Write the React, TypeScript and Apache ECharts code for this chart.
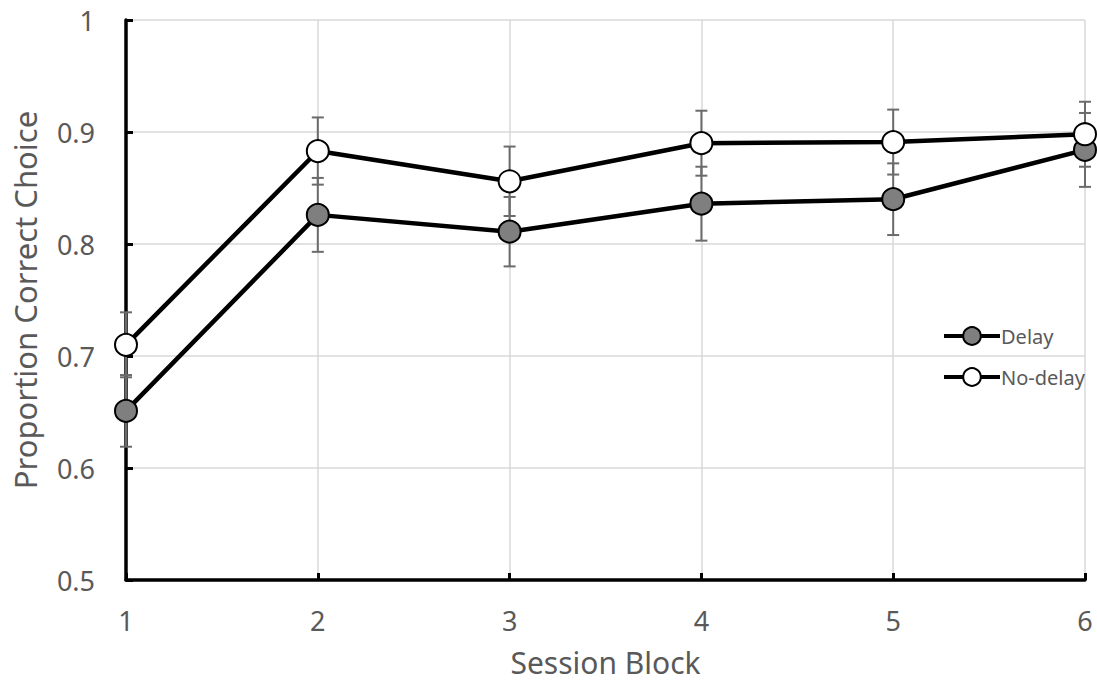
import React, { useEffect, useRef } from "react";
import * as echarts from "echarts";

const blocks = [1, 2, 3, 4, 5, 6];
const delayMeans = [0.651, 0.826, 0.811, 0.836, 0.84, 0.884];
const delayErr = [0.032, 0.033, 0.031, 0.033, 0.032, 0.033];
const noDelayMeans = [0.71, 0.883, 0.856, 0.89, 0.891, 0.898];
const noDelayErr = [0.029, 0.03, 0.031, 0.029, 0.029, 0.029];
const yTicks = [0.5, 0.6, 0.7, 0.8, 0.9, 1];

const FONT = "Noto Sans";
const TXT = "#595959";

function errSeries(name: string, means: number[], errs: number[]) {
  return {
    name: name + "-err",
    type: "custom",
    z: 1,
    silent: true,
    data: blocks.map((b, i) => [b, means[i] - errs[i], means[i] + errs[i]]),
    renderItem: (params: any, api: any) => {
      const x = api.value(0);
      const lo = api.coord([x, api.value(1)]);
      const hi = api.coord([x, api.value(2)]);
      const hw = 6;
      const style = { stroke: "#6b6b6b", lineWidth: 2, fill: "none" };
      return {
        type: "group",
        children: [
          { type: "line", shape: { x1: lo[0], y1: lo[1], x2: hi[0], y2: hi[1] }, style },
          { type: "line", shape: { x1: lo[0] - hw, y1: lo[1], x2: lo[0] + hw, y2: lo[1] }, style },
          { type: "line", shape: { x1: hi[0] - hw, y1: hi[1], x2: hi[0] + hw, y2: hi[1] }, style },
        ],
      };
    },
  };
}

export default function App() {
  const ref = useRef<HTMLDivElement>(null);
  useEffect(() => {
    if (!ref.current) return;
    const chart = echarts.init(ref.current, null, { renderer: "svg" });
    chart.setOption({
      animation: false,
      backgroundColor: "#ffffff",
      grid: { left: 126, right: 12, top: 20, bottom: 112 },
      legend: {
        orient: "vertical",
        left: 942,
        top: 326,
        padding: 0,
        itemGap: 21,
        itemWidth: 56,
        itemHeight: 22,
        lineStyle: { width: 4 },
        textStyle: { fontFamily: FONT, fontSize: 20, color: TXT, padding: [0, 0, 0, -4] },
        data: ["Delay", "No-delay"],
      },
      xAxis: {
        type: "value",
        min: 1,
        max: 6,
        interval: 1,
        name: "Session Block",
        nameLocation: "middle",
        nameGap: 67,
        nameTextStyle: { fontFamily: FONT, fontSize: 30, color: TXT },
        axisLine: { lineStyle: { color: "#000", width: 3.5 } },
        axisTick: { show: true, inside: true, length: 7, lineStyle: { color: "#000", width: 3 } },
        axisLabel: { fontFamily: FONT, fontSize: 27, color: TXT, margin: 27 },
        splitLine: { show: true, lineStyle: { color: "#d9d9d9", width: 1.5 } },
      },
      yAxis: {
        type: "value",
        min: 0.5,
        max: 1,
        interval: 0.1,
        name: "Proportion Correct Choice",
        nameLocation: "middle",
        nameGap: 86,
        nameTextStyle: { fontFamily: FONT, fontSize: 31, color: TXT },
        axisLine: { show: true, lineStyle: { color: "#000", width: 3.5 } },
        axisTick: { show: true, inside: true, length: 7, lineStyle: { color: "#000", width: 3 } },
        axisLabel: {
          fontFamily: FONT,
          fontSize: 27,
          color: TXT,
          margin: 31,
          formatter: (v: number) => {
            const t = yTicks.find((k) => Math.abs(k - v) < 1e-6);
            return t === undefined ? "" : String(t);
          },
        },
        splitLine: { show: true, lineStyle: { color: "#d9d9d9", width: 1.5 } },
      },
      series: [
        errSeries("Delay", delayMeans, delayErr),
        errSeries("No-delay", noDelayMeans, noDelayErr),
        {
          name: "Delay",
          type: "line",
          z: 3,
          data: blocks.map((b, i) => [b, delayMeans[i]]),
          symbol: "circle",
          symbolSize: 22,
          lineStyle: { color: "#000", width: 4.5 },
          itemStyle: { color: "#7f7f7f", borderColor: "#000", borderWidth: 2 },
        },
        {
          name: "No-delay",
          type: "line",
          z: 4,
          data: blocks.map((b, i) => [b, noDelayMeans[i]]),
          symbol: "circle",
          symbolSize: 22,
          lineStyle: { color: "#000", width: 4.5 },
          itemStyle: { color: "#ffffff", borderColor: "#000", borderWidth: 2 },
        },
      ],
    });
    return () => chart.dispose();
  }, []);
  return (
    <div
      ref={ref}
      style={{ position: "fixed", left: 0, top: 0, width: 1097, height: 692, background: "#fff" }}
    />
  );
}
